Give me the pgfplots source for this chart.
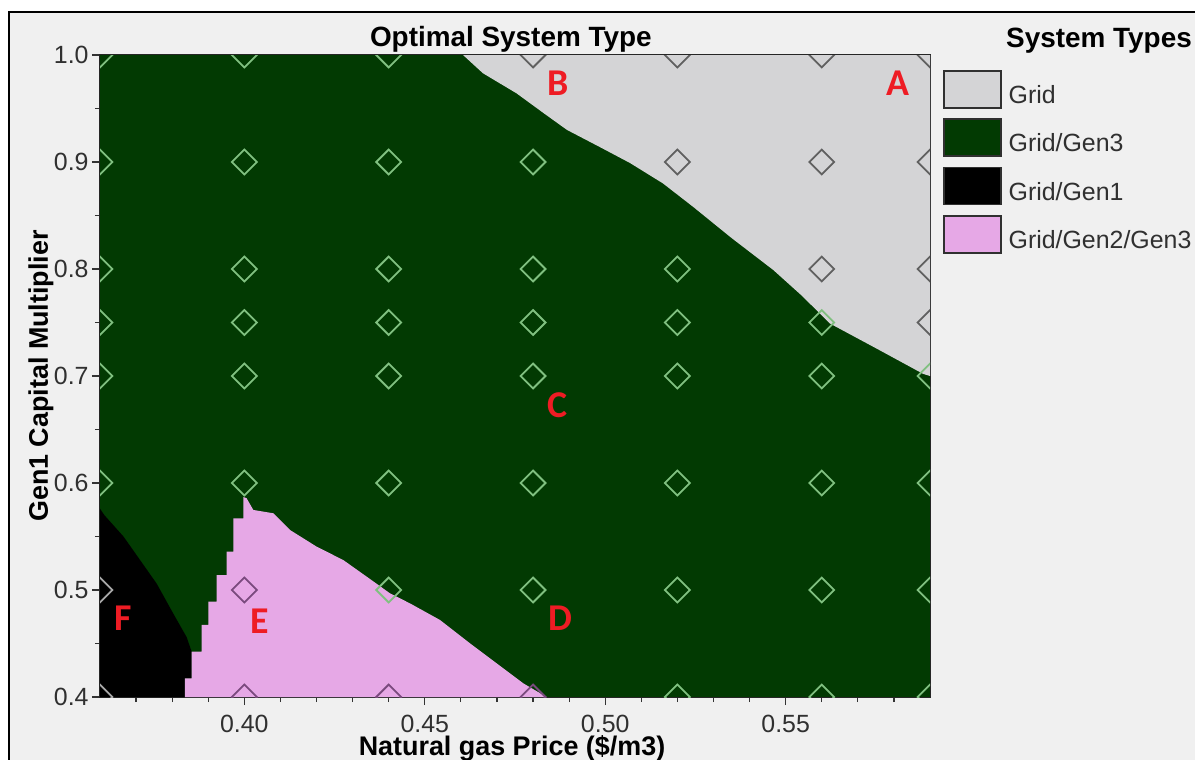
\documentclass[border=0pt]{standalone}
\usepackage{pgfplots}
\pgfplotsset{compat=1.18}
\usepackage{fontspec}
\setmainfont{Liberation Sans}
\newfontfamily\carlito{Carlito}
\definecolor{bggrey}{HTML}{F0F0F0}
\definecolor{gen3green}{HTML}{023A02}
\definecolor{gridgrey}{HTML}{D4D4D6}
\definecolor{gen2pink}{HTML}{E6A8E6}
\definecolor{mkgreen}{HTML}{80C080}
\definecolor{mkgrey}{HTML}{606060}
\definecolor{mkpink}{HTML}{7A4A7E}
\definecolor{mkblack}{HTML}{A8A8A8}
\definecolor{txt}{HTML}{303030}
\definecolor{letterred}{HTML}{EE1C24}
\begin{document}
\begin{tikzpicture}
\useasboundingbox (0,0) rectangle (597.5bp,-380bp);
\fill[white] (0,0) rectangle (597.5bp,-380bp);
\filldraw[fill=bggrey, draw=black, line width=0.8bp] (4.5bp,-6bp) rectangle (610bp,-390bp);
\node[font=\bfseries\fontsize{14}{16}\selectfont, anchor=base, text=black] at (549.5bp,-23.5bp) {System Types};
\begin{axis}[
  at={(50bp,-348.5bp)}, anchor=south west,
  scale only axis, width=415bp, height=321bp,
  xmin=0.36, xmax=0.59, ymin=0.4, ymax=1.0,
  xtick={0.40,0.45,0.50,0.55},
  xticklabels={0.40,0.45,0.50,0.55},
  ytick={0.4,0.5,0.6,0.7,0.8,0.9,1.0},
  yticklabels={0.4,0.5,0.6,0.7,0.8,0.9,1.0},
  minor xtick={0.37,0.38,0.39,0.41,0.42,0.43,0.44,0.46,0.47,0.48,0.49,0.51,0.52,0.53,0.54,0.56,0.57,0.58},
  minor ytick={0.45,0.55,0.65,0.75,0.85,0.95},
  xtick pos=left, ytick pos=left,
  tick align=outside,
  major tick length=4bp, minor tick length=2.5bp,
  tick style={black!80, line width=0.6bp},
  axis line style={black!85, line width=0.7bp},
  ticklabel style={font=\fontsize{12.5}{14}\selectfont, text=txt},
  xticklabel style={anchor=base, yshift=-13.5bp},
  yticklabel style={anchor=east, inner sep=0pt, xshift=-1.5bp},
  title={Optimal System Type},
  title style={at={(axis description cs:0.495,1.0125)}, anchor=base, yshift=-6pt, font=\bfseries\fontsize{14}{16}\selectfont},
  xlabel={Natural gas Price (\$/m3)},
  xlabel style={at={(axis description cs:0.4964,-0.091)}, anchor=base, font=\bfseries\fontsize{13.5}{15}\selectfont},
  ylabel={Gen1 Capital Multiplier},
  ylabel style={at={(axis description cs:-0.0627,0.5)}, anchor=base, font=\bfseries\fontsize{13.5}{15}\selectfont},
  clip marker paths=true,
  legend style={at={(axis description cs:1.0157,0.9766)}, anchor=north west, draw=none, fill=none,
    inner sep=0pt, outer sep=0pt, row sep=4.9bp, column sep=3.5bp,
    nodes={inner sep=0pt}, font=\fontsize{12.5}{14}\selectfont, text=txt, cells={anchor=west}},
]
% regions
\addplot[fill=gen3green, draw=none, forget plot] coordinates {(0.36,0.4) (0.59,0.4) (0.59,1.0) (0.36,1.0)} -- cycle;
\addplot[fill=gridgrey, draw=none, forget plot] coordinates {
(0.4606,1.0) (0.4661,0.983) (0.4755,0.964) (0.4828,0.946) (0.4894,0.930) (0.4985,0.914)
(0.5069,0.899) (0.5160,0.880) (0.5244,0.858) (0.5350,0.829)
(0.5466,0.799) (0.5545,0.775) (0.5623,0.749) (0.5750,0.726) (0.5881,0.702) (0.59,0.700) (0.59,1.0)} -- cycle;
\addplot[fill=black, draw=none, forget plot] coordinates {
(0.36,0.40) (0.36,0.576) (0.3612,0.570) (0.3665,0.550) (0.3711,0.528) (0.3757,0.506)
(0.3803,0.478) (0.3840,0.456) (0.3854,0.4424) (0.3854,0.4175) (0.38355,0.4175) (0.38355,0.40)} -- cycle;
\addplot[fill=gen2pink, draw=none, forget plot] coordinates {
(0.38355,0.40) (0.38355,0.4175) (0.3854,0.4175) (0.3854,0.4424) (0.38817,0.4424)
(0.38817,0.4673) (0.39002,0.4673) (0.39002,0.4891) (0.39233,0.4891) (0.39233,0.5140)
(0.39510,0.5140) (0.39510,0.5358) (0.39694,0.5358) (0.39694,0.5670) (0.39972,0.5670)
(0.39972,0.5870) (0.40064,0.5857) (0.40249,0.5748) (0.40803,0.5717) (0.41265,0.5561)
(0.42004,0.5405) (0.42742,0.5280) (0.43389,0.5125) (0.44036,0.4969) (0.44590,0.4875)
(0.45421,0.4720) (0.46252,0.4502) (0.46991,0.4315) (0.47729,0.4128) (0.48376,0.40)} -- cycle;
% sample points
\addplot[only marks, mark=square, mark size=4.4bp, forget plot,
  mark options={rotate=45, draw=mkgreen, fill=gen3green, line width=0.9bp}] coordinates {
(0.36,1.0) (0.40,1.0) (0.44,1.0)
(0.36,0.9) (0.40,0.9) (0.44,0.9) (0.48,0.9)
(0.36,0.8) (0.40,0.8) (0.44,0.8) (0.48,0.8) (0.52,0.8)
(0.36,0.75) (0.40,0.75) (0.44,0.75) (0.48,0.75) (0.52,0.75) (0.56,0.75)
(0.36,0.7) (0.40,0.7) (0.44,0.7) (0.48,0.7) (0.52,0.7) (0.56,0.7) (0.59,0.7)
(0.36,0.6) (0.40,0.6) (0.44,0.6) (0.48,0.6) (0.52,0.6) (0.56,0.6) (0.59,0.6)
(0.44,0.5) (0.48,0.5) (0.52,0.5) (0.56,0.5) (0.59,0.5)
(0.52,0.4) (0.56,0.4) (0.59,0.4)};
\addplot[only marks, mark=square, mark size=4.4bp, forget plot,
  mark options={rotate=45, draw=mkgrey, fill=gridgrey, line width=0.9bp}] coordinates {
(0.48,1.0) (0.52,1.0) (0.56,1.0) (0.59,1.0)
(0.52,0.9) (0.56,0.9) (0.59,0.9)
(0.56,0.8) (0.59,0.8)
(0.59,0.75)};
\addplot[only marks, mark=square, mark size=4.4bp, forget plot,
  mark options={rotate=45, draw=mkpink, fill=gen2pink, line width=0.9bp}] coordinates {
(0.40,0.5) (0.40,0.4) (0.44,0.4) (0.48,0.4)};
\addplot[only marks, mark=square, mark size=4.4bp, forget plot,
  mark options={rotate=45, draw=mkblack, fill=black, line width=0.9bp}] coordinates {
(0.36,0.5) (0.36,0.4)};
% legend
\addlegendimage{legend image code/.code={\draw[draw=txt, fill=gridgrey, line width=0.8bp] (0bp,-6bp) rectangle (28.5bp,12.5bp);}}
\addlegendentry{Grid}
\addlegendimage{legend image code/.code={\draw[draw=txt, fill=gen3green, line width=0.8bp] (0bp,-6bp) rectangle (28.5bp,12.5bp);}}
\addlegendentry{Grid/Gen3}
\addlegendimage{legend image code/.code={\draw[draw=txt, fill=black, line width=0.8bp] (0bp,-6bp) rectangle (28.5bp,12.5bp);}}
\addlegendentry{Grid/Gen1}
\addlegendimage{legend image code/.code={\draw[draw=txt, fill=gen2pink, line width=0.8bp] (0bp,-6bp) rectangle (28.5bp,12.5bp);}}
\addlegendentry{Grid/Gen2/Gen3}
% letters
\node[font=\carlito\bfseries\fontsize{19}{20}\selectfont, text=letterred] at (axis cs:0.5812,0.9735) {A};
\node[font=\carlito\bfseries\fontsize{19}{20}\selectfont, text=letterred] at (axis cs:0.4870,0.9735) {B};
\node[font=\carlito\bfseries\fontsize{19}{20}\selectfont, text=letterred] at (axis cs:0.4869,0.673) {C};
\node[font=\carlito\bfseries\fontsize{19}{20}\selectfont, text=letterred] at (axis cs:0.4875,0.4735) {D};
\node[font=\carlito\bfseries\fontsize{19}{20}\selectfont, text=letterred] at (axis cs:0.4043,0.4704) {E};
\node[font=\carlito\bfseries\fontsize{19}{20}\selectfont, text=letterred] at (axis cs:0.3665,0.4735) {F};
\end{axis}
\end{tikzpicture}
\end{document}
